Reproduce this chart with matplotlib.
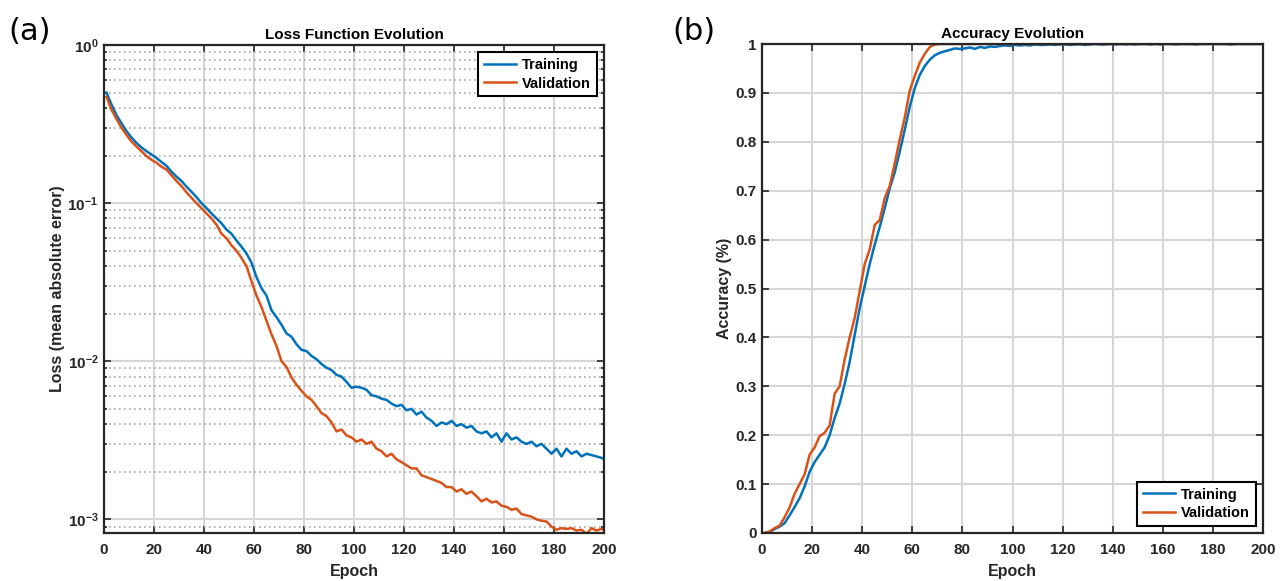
import numpy as np
import matplotlib
matplotlib.use('Agg')
import matplotlib.pyplot as plt
from matplotlib.ticker import LogLocator, NullFormatter

plt.rcParams['font.family'] = ['Liberation Sans', 'DejaVu Sans']

# epochs sampled every 2 (plus the last one)
epochs = list(range(1, 200, 2)) + [200]

train_loss = [
    0.50, 0.42, 0.36, 0.32, 0.285, 0.26, 0.24, 0.225, 0.213, 0.203,
    0.193, 0.182, 0.172, 0.158, 0.147, 0.138, 0.127, 0.118, 0.109, 0.100,
    0.093, 0.086, 0.080, 0.0745, 0.068, 0.064, 0.058, 0.053, 0.048, 0.042,
    0.034, 0.029, 0.026, 0.021, 0.019, 0.017, 0.015, 0.0143, 0.0128, 0.0118,
    0.0116, 0.0108, 0.0103, 0.0096, 0.0091, 0.0088, 0.0082, 0.0080, 0.0074, 0.0068,
    0.0069, 0.0068, 0.0066, 0.0061, 0.0060, 0.0058, 0.0057, 0.0054, 0.0052, 0.0053,
    0.0049, 0.0050, 0.0046, 0.0048, 0.0044, 0.0042, 0.0039, 0.0041, 0.0040, 0.0042,
    0.0039, 0.0040, 0.0038, 0.0039, 0.0036, 0.0035, 0.0036, 0.0033, 0.0035, 0.0031,
    0.0035, 0.0032, 0.0033, 0.0031, 0.0030, 0.0031, 0.0029, 0.0030, 0.0028, 0.0026,
    0.0028, 0.0025, 0.0028, 0.0026, 0.0027, 0.0025, 0.0026, 0.00255, 0.0025, 0.00245,
    0.0024]

val_loss = [
    0.47, 0.39, 0.34, 0.30, 0.27, 0.245, 0.228, 0.213, 0.198, 0.188,
    0.180, 0.170, 0.163, 0.150, 0.138, 0.128, 0.117, 0.108, 0.100, 0.093,
    0.086, 0.080, 0.073, 0.064, 0.060, 0.054, 0.050, 0.045, 0.040, 0.032,
    0.026, 0.022, 0.018, 0.0148, 0.0125, 0.0100, 0.0092, 0.0079, 0.0071, 0.0065,
    0.0060, 0.0057, 0.0052, 0.0047, 0.0045, 0.0041, 0.0036, 0.0037, 0.0034, 0.0033,
    0.0031, 0.0032, 0.0030, 0.0031, 0.0028, 0.0027, 0.0025, 0.0026, 0.0024, 0.0023,
    0.0022, 0.0021, 0.0021, 0.0019, 0.00185, 0.0018, 0.00175, 0.0017, 0.0016, 0.0016,
    0.0015, 0.00155, 0.00145, 0.0015, 0.0014, 0.0013, 0.00135, 0.00128, 0.0013, 0.00122,
    0.0012, 0.00115, 0.00117, 0.00108, 0.00106, 0.00104, 0.00100, 0.00098, 0.00097, 0.00090,
    0.00086, 0.00088, 0.00087, 0.00088, 0.00085, 0.00086, 0.00081, 0.00088, 0.00085, 0.00087,
    0.00086]

train_acc = [
    0.000, 0.002, 0.008, 0.013, 0.020, 0.036, 0.053, 0.071, 0.095, 0.125,
    0.145, 0.160, 0.175, 0.200, 0.235, 0.265, 0.305, 0.350, 0.405, 0.460,
    0.505, 0.550, 0.590, 0.626, 0.664, 0.705, 0.738, 0.780, 0.825, 0.872,
    0.910, 0.937, 0.955, 0.968, 0.977, 0.982, 0.985, 0.988, 0.991, 0.990,
    0.991, 0.993, 0.990, 0.994, 0.992, 0.995, 0.994, 0.996, 0.997, 0.996,
    0.998, 0.997, 0.998, 0.997, 0.999, 0.998, 0.998, 0.999, 0.998, 0.999,
    0.999, 0.998, 0.999, 0.999, 0.998, 0.999, 1.000, 0.999, 0.999, 1.000,
    0.999, 1.000, 0.999, 1.000, 0.999, 1.000, 1.000, 0.999, 1.000, 0.999,
    1.000, 1.000, 0.999, 1.000, 1.000, 1.000, 0.999, 1.000, 1.000, 1.000,
    1.000, 1.000, 1.000, 0.999, 1.000, 1.000, 1.000, 1.000, 1.000, 1.000,
    1.000]

val_acc = [
    0.000, 0.003, 0.010, 0.015, 0.032, 0.052, 0.080, 0.100, 0.120, 0.160,
    0.175, 0.198, 0.205, 0.220, 0.285, 0.300, 0.355, 0.400, 0.440, 0.495,
    0.550, 0.580, 0.630, 0.640, 0.685, 0.710, 0.756, 0.805, 0.850, 0.905,
    0.935, 0.962, 0.980, 0.994, 0.999, 1.000, 1.000, 1.000, 1.000, 1.000,
    1.000, 1.000, 1.000, 1.000, 1.000, 1.000, 1.000, 1.000, 1.000, 1.000,
    1.000, 1.000, 1.000, 1.000, 1.000, 1.000, 1.000, 1.000, 1.000, 1.000,
    1.000, 1.000, 1.000, 1.000, 1.000, 1.000, 1.000, 1.000, 1.000, 1.000,
    1.000, 1.000, 1.000, 1.000, 1.000, 1.000, 1.000, 1.000, 1.000, 1.000,
    1.000, 1.000, 1.000, 1.000, 1.000, 1.000, 1.000, 1.000, 1.000, 1.000,
    1.000, 1.000, 1.000, 1.000, 1.000, 1.000, 1.000, 1.000, 1.000, 1.000,
    1.000]

x_ticks = list(range(0, 201, 20))
acc_ticks = [0, 0.1, 0.2, 0.3, 0.4, 0.5, 0.6, 0.7, 0.8, 0.9, 1]
acc_labels = ['0', '0.1', '0.2', '0.3', '0.4', '0.5', '0.6', '0.7', '0.8', '0.9', '1']

blue = '#0072BD'
orange = '#D95319'
dark = '#262626'


def style_axes(ax):
    for s in ax.spines.values():
        s.set_color(dark)
        s.set_linewidth(1.6)
    ax.tick_params(which='both', direction='in', top=True, right=True,
                   color=dark, labelcolor=dark, labelsize=11, width=1.2)
    ax.tick_params(which='major', length=5)
    ax.tick_params(which='minor', length=2.5)
    ax.tick_params(axis='x', which='major', pad=7)
    ax.tick_params(axis='y', which='major', pad=4)
    for lab in ax.get_xticklabels() + ax.get_yticklabels():
        lab.set_fontweight('bold')
    ax.set_axisbelow(True)


fig = plt.figure(figsize=(12.81, 5.81), dpi=100)

# (a) loss
ax1 = fig.add_axes([104 / 1281, 1 - 533 / 581, 500 / 1281, 488 / 581])
ax1.semilogy(epochs, train_loss, color=blue, lw=1.8, label='Training')
ax1.semilogy(epochs, val_loss, color=orange, lw=1.8, label='Validation')
ax1.set_xlim(0, 200)
ax1.set_ylim(8.2e-4, 1)
ax1.set_xticks(x_ticks)
ax1.yaxis.set_major_locator(LogLocator(base=10, numticks=10))
ax1.yaxis.set_minor_locator(LogLocator(base=10, subs=np.arange(2, 10), numticks=20))
ax1.yaxis.set_minor_formatter(NullFormatter())
ax1.grid(which='major', color='#d6d6d6', lw=1.5, ls='-')
ax1.grid(which='minor', axis='y', color='#a8a8a8', lw=1.2, ls=(0, (1, 2)))
ax1.set_title('Loss Function Evolution', fontsize=11, fontweight='bold', color='black', pad=4)
ax1.set_xlabel('Epoch', fontsize=11.5, fontweight='bold', color=dark, labelpad=5)
ax1.set_ylabel('Loss (mean absolute error)', fontsize=11.5, fontweight='bold', color=dark, labelpad=2)
style_axes(ax1)
leg1 = ax1.legend(loc='upper right', fancybox=False, edgecolor='black', framealpha=1,
                  prop={'weight': 'bold', 'size': 10.5}, handlelength=2.2,
                  borderaxespad=0.5, labelspacing=0.3, handletextpad=0.4)
leg1.get_frame().set_linewidth(1.5)

# (b) accuracy
ax2 = fig.add_axes([762 / 1281, 1 - 533 / 581, 501 / 1281, 489 / 581])
ax2.plot(epochs, train_acc, color=blue, lw=1.8, label='Training')
ax2.plot(epochs, val_acc, color=orange, lw=1.8, label='Validation')
ax2.set_xlim(0, 200)
ax2.set_ylim(0, 1)
ax2.set_xticks(x_ticks)
ax2.set_yticks(acc_ticks)
ax2.set_yticklabels(acc_labels)
ax2.grid(which='major', color='#d6d6d6', lw=1.5, ls='-')
ax2.set_title('Accuracy Evolution', fontsize=11, fontweight='bold', color='black', pad=4)
ax2.set_xlabel('Epoch', fontsize=11.5, fontweight='bold', color=dark, labelpad=5)
ax2.set_ylabel('Accuracy (%)', fontsize=11.5, fontweight='bold', color=dark, labelpad=2)
style_axes(ax2)
leg2 = ax2.legend(loc='lower right', fancybox=False, edgecolor='black', framealpha=1,
                  prop={'weight': 'bold', 'size': 10.5}, handlelength=2.2,
                  borderaxespad=0.5, labelspacing=0.3, handletextpad=0.4)
leg2.get_frame().set_linewidth(1.5)

fig.text(8 / 1281, 1 - 40 / 581, '(a)', fontsize=22, family='DejaVu Sans')
fig.text(672 / 1281, 1 - 40 / 581, '(b)', fontsize=22, family='DejaVu Sans')

fig.savefig('out.png', dpi=100)
